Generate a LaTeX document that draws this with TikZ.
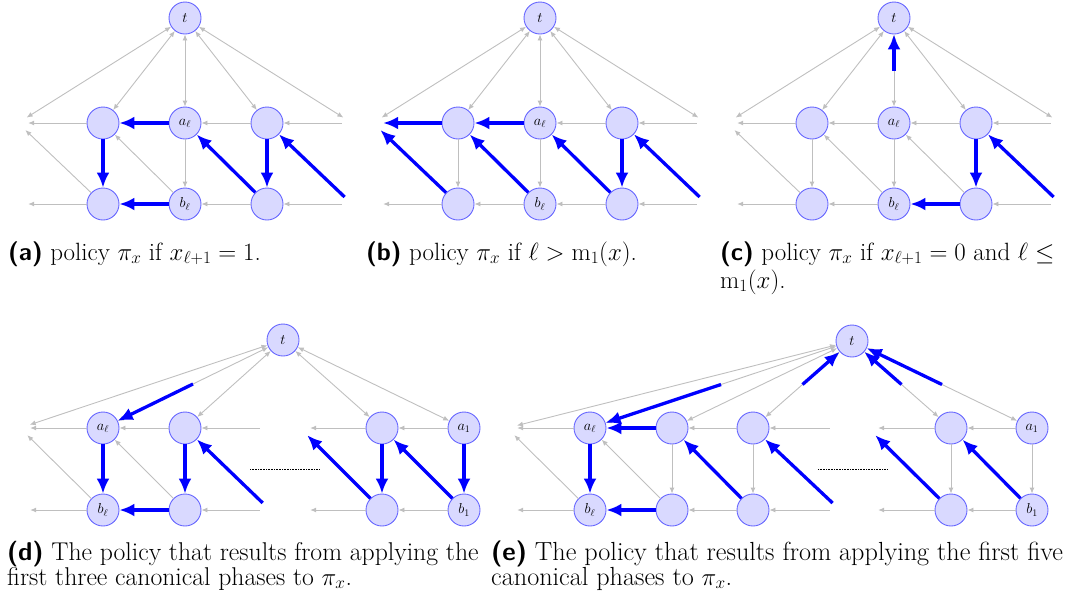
\documentclass[tikz,border=0pt]{standalone}
\usetikzlibrary{arrows.meta,calc}
\begin{document}
\begin{tikzpicture}[x=1pt,y=-1pt,
  vtx/.style={circle,draw=blue!60,fill=blue!15,line width=0.9pt,minimum size=32pt,inner sep=0pt,font=\fontsize{14}{14}\selectfont},
  stub/.style={circle,minimum size=20pt,inner sep=0pt},
  g/.style={draw=black!25,line width=0.9pt,-{Latex[length=6pt,width=5pt]}},
  gg/.style={draw=black!25,line width=0.9pt,{Latex[length=6pt,width=5pt]}-{Latex[length=6pt,width=5pt]}},
  bl/.style={draw=blue,line width=3.3pt,-{Latex[length=15pt,width=13pt]}},
  captext/.style={anchor=base west,inner sep=0pt,font=\fontsize{25}{29}\selectfont},
  captextd/.style={anchor=base west,inner sep=0pt,font=\fontsize{25.7}{30}\selectfont},
  captexte/.style={anchor=base west,inner sep=0pt,font=\fontsize{26.2}{30}\selectfont}]
\useasboundingbox (0,0) rectangle (1075,598);

% ---------------- panel (a)
\begin{scope}[xshift=0pt]
\node[vtx] (At) at (185,18) {$t$};
\node[vtx] (Au1) at (103,123) {};
\node[vtx] (Aa) at (185,123) {$a_\ell$};
\node[vtx] (Au3) at (267,123) {};
\node[vtx] (Al1) at (103,204) {};
\node[vtx] (Ab) at (185,204) {$b_\ell$};
\node[vtx] (Al3) at (267,204) {};
\node[stub] (AsLu) at (18,123) {};
\node[stub] (AsLl) at (18,204) {};
\node[stub] (AsRu) at (352,123) {};
\node[stub] (AsRl) at (352,204) {};
\draw[gg] (AsLu) -- (At);
\draw[gg] (Au1) -- (At);
\draw[gg] (Aa) -- (At);
\draw[gg] (Au3) -- (At);
\draw[gg] (AsRu) -- (At);
\draw[g] (AsRu) -- (Au3);
\draw[g] (Au3) -- (Aa);
\draw[g] (Au1) -- (AsLu);
\draw[g] (AsRl) -- (Al3);
\draw[g] (Al3) -- (Ab);
\draw[g] (Al1) -- (AsLl);
\draw[g] (Aa) -- (Ab);
\draw[g] (Al1) -- (AsLu);
\draw[g] (Ab) -- (Au1);
\draw[bl] (Au1) -- (Al1);
\draw[bl] (Aa) -- (Au1);
\draw[bl] (Au3) -- (Al3);
\draw[bl] (Ab) -- (Al1);
\draw[bl] (Al3) -- (Aa);
\draw[bl] (AsRl) -- (Au3);
\end{scope}

% ---------------- panel (b)
\begin{scope}[xshift=355pt]
\node[vtx] (Bt) at (185,18) {$t$};
\node[vtx] (Bu1) at (103,123) {};
\node[vtx] (Ba) at (185,123) {$a_\ell$};
\node[vtx] (Bu3) at (267,123) {};
\node[vtx] (Bl1) at (103,204) {};
\node[vtx] (Bb) at (185,204) {$b_\ell$};
\node[vtx] (Bl3) at (267,204) {};
\node[stub] (BsLu) at (18,123) {};
\node[stub] (BsLl) at (18,204) {};
\node[stub] (BsRu) at (352,123) {};
\node[stub] (BsRl) at (352,204) {};
\draw[gg] (BsLu) -- (Bt);
\draw[gg] (Bu1) -- (Bt);
\draw[gg] (Ba) -- (Bt);
\draw[gg] (Bu3) -- (Bt);
\draw[gg] (BsRu) -- (Bt);
\draw[g] (BsRu) -- (Bu3);
\draw[g] (Bu3) -- (Ba);
\draw[g] (BsRl) -- (Bl3);
\draw[g] (Bl3) -- (Bb);
\draw[g] (Bb) -- (Bl1);
\draw[g] (Bl1) -- (BsLl);
\draw[g] (Bu1) -- (Bl1);
\draw[g] (Ba) -- (Bb);
\draw[bl] (Bu1) -- (BsLu);
\draw[bl] (Ba) -- (Bu1);
\draw[bl] (Bl1) -- (BsLu);
\draw[bl] (Bb) -- (Bu1);
\draw[bl] (Bl3) -- (Ba);
\draw[bl] (Bu3) -- (Bl3);
\draw[bl] (BsRl) -- (Bu3);
\end{scope}

% ---------------- panel (c)
\begin{scope}[xshift=709pt]
\node[vtx] (Ct) at (185,18) {$t$};
\node[vtx] (Cu1) at (103,123) {};
\node[vtx] (Ca) at (185,123) {$a_\ell$};
\node[vtx] (Cu3) at (267,123) {};
\node[vtx] (Cl1) at (103,204) {};
\node[vtx] (Cb) at (185,204) {$b_\ell$};
\node[vtx] (Cl3) at (267,204) {};
\node[stub] (CsLu) at (18,123) {};
\node[stub] (CsLl) at (18,204) {};
\node[stub] (CsRu) at (352,123) {};
\node[stub] (CsRl) at (352,204) {};
\draw[gg] (CsLu) -- (Ct);
\draw[gg] (Cu1) -- (Ct);
\draw[gg] (Ca) -- (Ct);
\draw[gg] (Cu3) -- (Ct);
\draw[gg] (CsRu) -- (Ct);
\draw[g] (CsRu) -- (Cu3);
\draw[g] (Cu3) -- (Ca);
\draw[g] (Ca) -- (Cu1);
\draw[g] (Cu1) -- (CsLu);
\draw[g] (CsRl) -- (Cl3);
\draw[g] (Cb) -- (Cl1);
\draw[g] (Cl1) -- (CsLl);
\draw[g] (Cu1) -- (Cl1);
\draw[g] (Ca) -- (Cb);
\draw[g] (Cl1) -- (CsLu);
\draw[g] (Cb) -- (Cu1);
\draw[g] (Cl3) -- (Ca);
\draw[bl] ($(Ca)!0.5!(Ct)$) -- (Ct);
\draw[bl] (Cu3) -- (Cl3);
\draw[bl] (Cl3) -- (Cb);
\draw[bl] (CsRl) -- (Cu3);
\end{scope}

% ---------------- panel (d)
\node[vtx] (Dt) at (283,340) {$t$};
\node[vtx] (Da) at (103,428) {$a_\ell$};
\node[vtx] (Du2) at (185,428) {};
\node[vtx] (Db) at (103,510) {$b_\ell$};
\node[vtx] (Dl2) at (185,510) {};
\node[vtx] (Du4) at (382,428) {};
\node[vtx] (Da1) at (464,428) {$a_1$};
\node[vtx] (Dl4) at (382,510) {};
\node[vtx] (Db1) at (464,510) {$b_1$};
\node[stub] (DsLu) at (20,428) {};
\node[stub] (DsLl) at (20,510) {};
\node[stub] (DgRu) at (270,428) {};
\node[stub] (DgRl) at (270,510) {};
\node[stub] (DgLu) at (300,428) {};
\node[stub] (DgLl) at (300,510) {};
\draw[gg] (DsLu) -- (Dt);
\draw[gg] (Da) -- (Dt);
\draw[gg] (Du2) -- (Dt);
\draw[gg] (Du4) -- (Dt);
\draw[gg] (Da1) -- (Dt);
\draw[g] (DgRu) -- (Du2);
\draw[g] (Du2) -- (Da);
\draw[g] (Da) -- (DsLu);
\draw[g] (DgRl) -- (Dl2);
\draw[g] (Db) -- (DsLl);
\draw[g] (Da1) -- (Du4);
\draw[g] (Du4) -- (DgLu);
\draw[g] (Db1) -- (Dl4);
\draw[g] (Dl4) -- (DgLl);
\draw[g] (Db) -- (DsLu);
\draw[g] (Dl2) -- (Da);
\draw[densely dotted,line width=0.6pt] (250,469) -- (320,469);
\draw[bl] ($(Dt)!0.5!(Da)$) -- (Da);
\draw[bl] (Da) -- (Db);
\draw[bl] (Du2) -- (Dl2);
\draw[bl] (Dl2) -- (Db);
\draw[bl] (DgRl) -- (Du2);
\draw[bl] (Dl4) -- (DgLu);
\draw[bl] (Du4) -- (Dl4);
\draw[bl] (Db1) -- (Du4);
\draw[bl] (Da1) -- (Db1);

% ---------------- panel (e)
\node[vtx] (Et) at (852,341) {$t$};
\node[vtx] (Ea) at (590,428) {$a_\ell$};
\node[vtx] (Eu2) at (672,428) {};
\node[vtx] (Eu3) at (753,428) {};
\node[vtx] (Eb) at (590,510) {$b_\ell$};
\node[vtx] (El2) at (672,510) {};
\node[vtx] (El3) at (753,510) {};
\node[vtx] (Eu4) at (951,428) {};
\node[vtx] (Ea1) at (1032,428) {$a_1$};
\node[vtx] (El4) at (951,510) {};
\node[vtx] (Eb1) at (1032,510) {$b_1$};
\node[stub] (EsLu) at (507,428) {};
\node[stub] (EsLl) at (507,510) {};
\node[stub] (EgRu) at (840,428) {};
\node[stub] (EgRl) at (840,510) {};
\node[stub] (EgLu) at (868,428) {};
\node[stub] (EgLl) at (868,510) {};
\draw[gg] (EsLu) -- (Et);
\draw[gg] (Ea) -- (Et);
\draw[gg] (Eu2) -- (Et);
\draw[gg] (Eu3) -- (Et);
\draw[gg] (Eu4) -- (Et);
\draw[gg] (Ea1) -- (Et);
\draw[g] (EgRu) -- (Eu3);
\draw[g] (Eu3) -- (Eu2);
\draw[g] (Ea) -- (EsLu);
\draw[g] (EgRl) -- (El3);
\draw[g] (El3) -- (El2);
\draw[g] (Eb) -- (EsLl);
\draw[g] (Ea1) -- (Eu4);
\draw[g] (Eu4) -- (EgLu);
\draw[g] (Eb1) -- (El4);
\draw[g] (El4) -- (EgLl);
\draw[g] (Eu2) -- (El2);
\draw[g] (Eu3) -- (El3);
\draw[g] (Eu4) -- (El4);
\draw[g] (Ea1) -- (Eb1);
\draw[g] (Eb) -- (EsLu);
\draw[g] (El2) -- (Ea);
\draw[densely dotted,line width=0.6pt] (818,469) -- (888,469);
\draw[bl] ($(Et)!0.5!(Ea)$) -- (Ea);
\draw[bl] ($(Eu3)!0.5!(Et)$) -- (Et);
\draw[bl] ($(Eu4)!0.5!(Et)$) -- (Et);
\draw[bl] ($(Ea1)!0.5!(Et)$) -- (Et);
\draw[bl] (Ea) -- (Eb);
\draw[bl] (Eu2) -- (Ea);
\draw[bl] (El2) -- (Eb);
\draw[bl] (El3) -- (Eu2);
\draw[bl] (EgRl) -- (Eu3);
\draw[bl] (El4) -- (EgLu);
\draw[bl] (Eb1) -- (Eu4);

% ---------------- captions
\node[captext] (capa) at (8,260) {\textsf{\bfseries (a)} policy $\pi_x$ if $x_{\ell+1}=1$.};
\node[captext] (capb) at (366,260) {\textsf{\bfseries (b)} policy $\pi_x$ if $\ell>\mathrm{m}_1(x)$.};
\node[captext] (capc1) at (720,260) {\textsf{\bfseries (c)} policy $\pi_x$ if $x_{\ell+1}=0$ and $\ell\le$};
\node[captext] (capc2) at (720,288) {$\mathrm{m}_1(x)$.};
\node[captextd] (capd1) at (7,560) {\textsf{\bfseries (d)} The policy that results from applying the};
\node[captextd] (capd2) at (7,585) {first three canonical phases to $\pi_x$.};
\node[captexte] (cape1) at (491,560) {\textsf{\bfseries (e)} The policy that results from applying the first five};
\node[captexte] (cape2) at (491,585) {canonical phases to $\pi_x$.};
\end{tikzpicture}
\end{document}
